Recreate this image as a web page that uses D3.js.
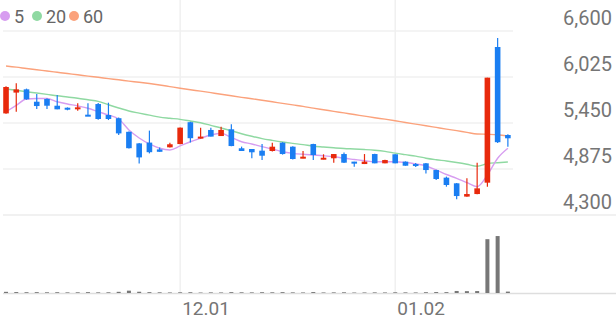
<!DOCTYPE html>
<html><head><meta charset="utf-8">
<script src="https://cdn.jsdelivr.net/npm/d3@7"></script>
<style>html,body{margin:0;padding:0;background:#fff;}svg{display:block;}</style>
</head><body><div id="chart"></div>
<script>
const dates = ["11.08","11.09","11.10","11.11","11.14","11.15","11.16","11.17","11.18","11.21","11.22","11.23","11.24","11.25","11.28","11.29","11.30","12.01","12.02","12.05","12.06","12.07","12.08","12.09","12.12","12.13","12.14","12.15","12.16","12.19","12.20","12.21","12.22","12.23","12.26","12.27","12.28","12.29","01.02","01.03","01.04","01.05","01.06","01.09","01.10","01.11","01.12","01.13","01.16","01.17"];
const open  = [5570,5830,5871,5716,5750,5666,5641,5621,5554,5687,5550,5510,5340,5195,5205,5120,5146,5187,5460,5255,5363,5287,5371,5134,5125,5104,5100,5204,5154,5009,5187,4996,5009,5062,4967,4937,5062,4946,5059,4967,4937,4946,4862,4767,4696,4530,4562,4704,6400,5300];
const high  = [5910,5946,5880,5812,5758,5800,5645,5696,5696,5700,5704,5520,5345,5200,5355,5145,5204,5395,5467,5392,5392,5404,5434,5155,5125,5187,5204,5210,5160,5100,5190,5059,5062,5080,4967,5062,5065,4990,5060,4970,4950,4950,4865,4780,4700,4758,4954,6017,6512,5310];
const low   = [5565,5592,5740,5625,5625,5621,5609,5604,5541,5490,5487,5300,5130,4945,5070,5090,5145,5185,5205,5255,5280,5287,5160,5100,5010,4987,5095,5055,4995,5009,4987,4996,4954,4950,4904,4937,4946,4946,4946,4916,4900,4820,4737,4654,4496,4529,4560,4654,5200,5154];
const close = [5900,5870,5746,5662,5666,5621,5621,5646,5541,5500,5500,5320,5135,5020,5085,5090,5184,5392,5260,5280,5280,5363,5162,5100,5084,5041,5154,5062,5000,5029,5050,5016,5062,4954,4946,4967,4946,4987,4946,4916,4912,4862,4750,4675,4537,4562,4633,6017,5210,5259];
const volume = [150,120,100,110,90,100,80,90,110,80,90,150,300,160,110,90,70,90,100,60,80,70,110,90,80,100,90,110,80,70,120,70,80,90,60,70,80,70,90,80,70,100,120,110,260,240,250,6900,7300,180];
const ma5  = [5591,5671,5750,5756,5756,5716,5688,5663,5634,5591,5550,5500,5363,5263,5188,5134,5113,5163,5216,5259,5300,5321,5271,5216,5188,5154,5125,5091,5071,5059,5050,5041,5029,5009,4994,4979,4966,4966,4966,4956,4938,4913,4863,4806,4759,4704,4654,4800,5009,5134];
const ma20 = [5875,5859,5841,5825,5808,5790,5775,5759,5740,5721,5678,5638,5600,5573,5548,5523,5509,5496,5475,5453,5420,5388,5353,5316,5284,5255,5233,5213,5196,5180,5160,5150,5140,5131,5125,5118,5109,5095,5073,5054,5036,5010,4991,4975,4956,4934,4909,4943,4954,4963];
const ma60 = [6162,6148,6131,6115,6100,6084,6068,6053,6036,6021,6005,5990,5974,5959,5943,5925,5905,5885,5866,5848,5829,5810,5790,5771,5753,5734,5715,5695,5676,5658,5636,5616,5596,5576,5556,5536,5516,5498,5478,5456,5436,5416,5395,5374,5354,5333,5313,5309,5303,5288];
const priceTicks = [6600,6025,5450,4875,4300];
const dateTicks = ["12.01","01.02"];
const legendLabels = ["5","20","60"];

const W = 616, H = 321;
const colors = {up:"#e8290c", down:"#1a7ef2", ma5:"#d79df0", ma20:"#8fd9a2", ma60:"#fba27c", vol:"#777777", grid:"#f0f0f0", axis:"#dedede", text:"#757575"};
const svg = d3.select("#chart").append("svg").attr("width",W).attr("height",H).style("font-family","Roboto, sans-serif");

const x = d3.scaleBand().domain(dates).range([0.9, 513]).padding(0);
const cx = d => x(d) + x.bandwidth()/2;
const y = d3.scaleLinear().domain([4300,6600]).range([215,31]);
const yv = d3.scaleLinear().domain([0,10000]).range([293,215]);

// grid
svg.append("g").selectAll("line").data(priceTicks.filter(t=>t!==4300)).join("line")
  .attr("x1",3).attr("x2",513).attr("y1",d=>y(d)).attr("y2",d=>y(d))
  .attr("stroke",colors.grid).attr("stroke-width",1.5);
svg.append("g").selectAll("line").data(dateTicks).join("line")
  .attr("x1",d=>cx(d)).attr("x2",d=>cx(d)).attr("y1",0).attr("y2",293)
  .attr("stroke",colors.grid).attr("stroke-width",1.5);
svg.append("line").attr("x1",3).attr("x2",W).attr("y1",y(4300)).attr("y2",y(4300)).attr("stroke","#ececec").attr("stroke-width",1.5);
svg.append("line").attr("x1",3).attr("x2",W).attr("y1",293.5).attr("y2",293.5).attr("stroke",colors.axis).attr("stroke-width",1.5);

// y labels
svg.append("g").selectAll("text").data(priceTicks).join("text")
  .attr("x",612).attr("y",d=>y(d)-6).attr("text-anchor","end")
  .attr("font-size",20).attr("fill",colors.text).text(d=>d3.format(",")(d));
// x labels
svg.append("g").selectAll("text").data(dateTicks).join("text")
  .attr("x",d=>cx(d)+2).attr("y",315).attr("font-size",19).attr("fill",colors.text).text(d=>d);

// volume
svg.append("g").selectAll("rect").data(dates).join("rect")
  .attr("x",d=>cx(d)-2).attr("width",4)
  .attr("y",(d,i)=>yv(volume[i])).attr("height",(d,i)=>293-yv(volume[i]))
  .attr("fill",colors.vol);

// MA lines
const lineGen = arr => d3.line().x((d,i)=>cx(dates[i])).y(d=>y(d)).curve(d3.curveMonotoneX)(arr);
[[ma60,colors.ma60],[ma20,colors.ma20],[ma5,colors.ma5]].forEach(([arr,c])=>{
  svg.append("path").attr("d",lineGen(arr)).attr("fill","none").attr("stroke",c).attr("stroke-width",1.4);
});

// candles
const cg = svg.append("g");
dates.forEach((d,i)=>{
  const up = close[i] >= open[i];
  const c = up ? colors.up : colors.down;
  cg.append("line").attr("x1",cx(d)).attr("x2",cx(d)).attr("y1",y(high[i])).attr("y2",y(low[i])).attr("stroke",c).attr("stroke-width",1.2);
  const top = y(Math.max(open[i],close[i])), bot = y(Math.min(open[i],close[i]));
  cg.append("rect").attr("x",cx(d)-2.8).attr("width",5.6).attr("y",top).attr("height",Math.max(2,bot-top)).attr("fill",c);
});

// legend
const lg = svg.append("g");
const legendColors = [colors.ma5, colors.ma20, colors.ma60];
const legendX = [5, 37, 74];
legendLabels.forEach((t,i)=>{
  lg.append("circle").attr("cx",legendX[i]).attr("cy",16).attr("r",5).attr("fill",legendColors[i]);
  lg.append("text").attr("x",legendX[i]+9).attr("y",22.5).attr("font-size",18).attr("fill","#666").text(t);
});
</script></body></html>
